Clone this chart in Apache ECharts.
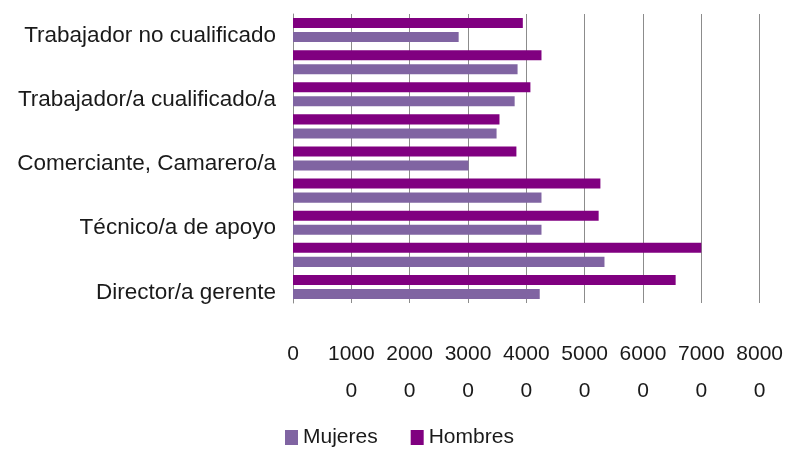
<!DOCTYPE html>
<html>
<head>
<meta charset="utf-8">
<script src="https://cdn.jsdelivr.net/npm/echarts@6/dist/echarts.min.js"></script>
<style>
html,body{margin:0;padding:0;background:#fff;}
#chart{width:786px;height:450px;}
</style>
</head>
<body>
<div id="chart"></div>
<script>
var categories = [
  'Director/a gerente',
  'Técnico/a científico/a',
  'Técnico/a de apoyo',
  'Administrativo/a',
  'Comerciante, Camarero/a',
  'Trabajador/a agrícola',
  'Trabajador/a cualificado/a',
  'Operador/a de maquinaria',
  'Trabajador no cualificado'
];
var mujeres = [42300, 53400, 42600, 42600, 30100, 34900, 38000, 38500, 28400];
var hombres = [65600, 70000, 52400, 52700, 38300, 35400, 40700, 42600, 39400];
var seriesNames = ['Mujeres', 'Hombres'];
var seriesColors = ['#8064A2', '#800080'];
var xTicks = ['0', '10000', '20000', '30000', '40000', '50000', '60000', '70000', '80000'];

var FONT = '"Liberation Sans", Arial, sans-serif';
var chart = echarts.init(document.getElementById('chart'), null, {renderer: 'canvas'});
chart.setOption({
  animation: false,
  textStyle: {fontFamily: FONT},
  grid: {left: 293, right: 26, top: 14, bottom: 147, containLabel: false},
  legend: {
    top: 427, left: 285, padding: 0, icon: 'rect',
    itemWidth: 13, itemHeight: 15, itemGap: 33,
    textStyle: {fontSize: 21, color: '#1a1a1a', fontFamily: FONT},
    data: seriesNames
  },
  xAxis: {
    type: 'value', min: 0, max: 80000, interval: 10000,
    axisLine: {show: false}, axisTick: {show: false},
    splitLine: {lineStyle: {color: '#8c8c8c', width: 1}},
    axisLabel: {
      fontSize: 21, color: '#1a1a1a', fontFamily: FONT, margin: 33, lineHeight: 37,
      formatter: function (v) {
        var s = xTicks[Math.round(v / 10000)] || String(v);
        return s.length > 4 ? s.slice(0, 4) + '\n' + s.slice(4) : s;
      }
    }
  },
  yAxis: {
    type: 'category', data: categories,
    axisLine: {show: true, lineStyle: {color: '#8c8c8c'}},
    axisTick: {show: false},
    axisLabel: {interval: 1, fontSize: 22.5, color: '#1a1a1a', fontFamily: FONT, margin: 17,
      verticalAlign: 'top', lineHeight: 11}
  },
  series: [
    {name: seriesNames[1], type: 'bar', data: hombres, itemStyle: {color: seriesColors[1]}, barGap: '40%', barCategoryGap: '25%'},
    {name: seriesNames[0], type: 'bar', data: mujeres, itemStyle: {color: seriesColors[0]}, barGap: '40%', barCategoryGap: '25%'}
  ]
});
</script>
</body>
</html>
